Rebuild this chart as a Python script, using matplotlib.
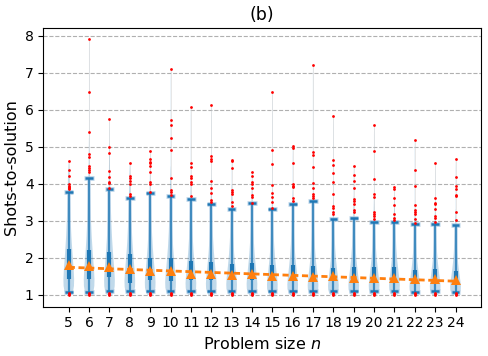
import numpy as np
import matplotlib
matplotlib.use("Agg")
import matplotlib.pyplot as plt

# ---------------- data ----------------
ns = list(range(5, 25))
whisk_hi = [3.79, 4.17, 3.85, 3.62, 3.76, 3.68, 3.58, 3.47, 3.32, 3.48,
            3.32, 3.46, 3.53, 3.04, 3.07, 2.97, 2.98, 2.91, 2.91, 2.89]
whisk_lo = [1.07, 1.09, 1.11, 1.11, 1.11, 1.11, 1.11, 1.11, 1.11, 1.11,
            1.12, 1.12, 1.12, 1.11, 1.12, 1.11, 1.12, 1.09, 1.11, 1.09]
q3 = [2.23, 2.21, 2.17, 2.10, 1.99, 1.99, 1.92, 1.90, 1.85, 1.87,
      1.81, 1.81, 1.78, 1.74, 1.76, 1.76, 1.76, 1.67, 1.69, 1.66]
q1 = [1.43, 1.42, 1.49, 1.33, 1.40, 1.39, 1.40, 1.40, 1.42, 1.40,
      1.42, 1.40, 1.40, 1.40, 1.36, 1.36, 1.36, 1.33, 1.36, 1.33]
means = [1.81, 1.77, 1.75, 1.69, 1.65, 1.65, 1.58, 1.57, 1.53, 1.56,
         1.51, 1.51, 1.48, 1.50, 1.45, 1.47, 1.47, 1.42, 1.43, 1.40]

fliers_hi = [
    [4.62, 4.37, 4.20, 3.99, 3.95, 3.92, 3.88, 3.85],
    [7.92, 6.47, 5.39, 4.80, 4.72, 4.49, 4.44, 4.38, 4.31],
    [5.75, 5.00, 4.83, 4.35, 4.19, 4.06, 4.01, 3.88],
    [4.56, 4.20, 4.15, 4.08, 3.99, 3.72, 3.67],
    [4.89, 4.68, 4.58, 4.55, 4.49, 4.31, 4.04, 3.99, 3.77],
    [7.09, 5.73, 5.59, 5.24, 4.92, 4.16, 3.83, 3.79, 3.70],
    [6.07, 4.56, 4.45, 4.21, 4.17, 4.04, 3.99, 3.67],
    [6.12, 4.74, 4.67, 4.61, 4.08, 3.88, 3.76, 3.56, 3.52],
    [4.65, 4.61, 4.42, 3.83, 3.77, 3.74, 3.50, 3.40],
    [4.31, 4.20, 4.05, 3.99, 3.90, 3.70, 3.65, 3.49],
    [6.48, 4.92, 4.53, 3.97, 3.76, 3.65, 3.52, 3.34],
    [5.01, 4.96, 4.56, 3.99, 3.95, 3.92, 3.61, 3.54],
    [7.22, 4.85, 4.77, 4.46, 4.02, 3.90, 3.72, 3.67, 3.61],
    [5.84, 4.65, 4.51, 4.29, 4.05, 3.74, 3.40, 3.36, 3.23, 3.18],
    [4.49, 4.24, 4.08, 3.88, 3.59, 3.54, 3.47, 3.29, 3.23],
    [5.59, 4.89, 4.14, 3.74, 3.65, 3.23, 3.20, 3.13, 3.04],
    [3.92, 3.85, 3.63, 3.42, 3.20, 3.09, 3.02],
    [5.19, 4.37, 3.95, 3.42, 3.29, 3.23, 3.18, 3.05, 2.95],
    [4.56, 3.63, 3.49, 3.45, 3.31, 3.13, 3.07, 2.98],
    [4.67, 4.19, 3.95, 3.86, 3.70, 3.67, 3.23, 3.02],
]
fliers_lo = [1.00, 1.03, 1.05]

# violin outline: relative half-width at t, where value = 1 + t*(q3-1)
violin_t = [0.0, 0.08, 0.2, 0.35, 0.55, 0.8, 1.0, 1.3, 1.7, 2.2, 2.8, 3.5]
violin_w = [0.5, 0.8, 0.97, 1.0, 0.92, 0.76, 0.64, 0.48, 0.33, 0.2, 0.1, 0.03]

# ---------------- figure ----------------
fig = plt.figure(figsize=(4.89, 3.56), dpi=100)
ax = fig.add_axes([0.0886, 0.1385, 0.8950, 0.7820])

C0 = "#1f77b4"
halo = "#a9c8e3"
max_half = 0.26

for i, n in enumerate(ns):
    top = max(fliers_hi[i])
    yv = [1.0 + t * (q3[i] - 1.0) for t in violin_t]
    wv = [w * max_half for w in violin_w]
    yy = np.linspace(1.0, top, 400)
    ww = np.interp(yy, yv, wv, right=0.004)
    ww = ww * np.clip((top - yy) / 0.3, 0.0, 1.0) + 0.003
    ax.fill_betweenx(yy, n - ww, n + ww, facecolor=C0, alpha=0.28,
                     edgecolor="none", zorder=2)
    # faint line to top outlier
    ax.plot([n, n], [whisk_hi[i], top], color="#c8c8c8", lw=0.5,
            alpha=0.6, zorder=2)
    # central bar
    ax.plot([n, n], [whisk_lo[i], whisk_hi[i]], color=halo, lw=2.6,
            alpha=0.7, zorder=3, solid_capstyle="butt")
    ax.plot([n, n], [whisk_lo[i], whisk_hi[i]], color=C0, lw=1.1,
            zorder=4, solid_capstyle="butt")
    # caps
    for yc in (whisk_lo[i], whisk_hi[i]):
        ax.plot([n - 0.23, n + 0.23], [yc, yc], color=halo, lw=3.4,
                alpha=0.8, zorder=3, solid_capstyle="butt")
        ax.plot([n - 0.19, n + 0.19], [yc, yc], color=C0, lw=1.8,
                zorder=4, solid_capstyle="butt")
    # box
    ax.plot([n, n], [q1[i], q3[i]], color=C0, lw=3.0, zorder=5,
            solid_capstyle="butt")
    # outliers
    ax.plot([n] * len(fliers_hi[i]), fliers_hi[i], "o", color="red",
            ms=2.0, mew=0, zorder=6)
    ax.plot([n] * len(fliers_lo), fliers_lo, "o", color="red",
            ms=2.0, mew=0, zorder=6)

# mean trend line and markers
coef = np.polyfit(ns, means, 1)
ax.plot(ns, np.polyval(coef, ns), color="#ff7f0e", lw=2.0,
        linestyle=(0, (2.2, 1.3)), zorder=7)
ax.plot(ns, means, "^", color="#ff7f0e", ms=7.5, mew=0, zorder=8)

ax.set_xlim(3.75, 25.25)
ax.set_ylim(0.684, 8.2)
ax.set_xticks(ns)
ax.set_xticklabels([str(n) for n in ns], fontsize=10)
ax.set_yticks(range(1, 9))
ax.tick_params(axis="y", labelsize=10)
ax.yaxis.grid(True, linestyle="--", color="#b0b0b0", lw=0.8)
ax.set_axisbelow(True)
ax.set_xlabel("Problem size $n$", fontsize=11.5)
ax.set_ylabel("Shots-to-solution", fontsize=11.5)
ax.set_title("(b)", fontsize=12.5)

fig.savefig("out.png", dpi=100)
